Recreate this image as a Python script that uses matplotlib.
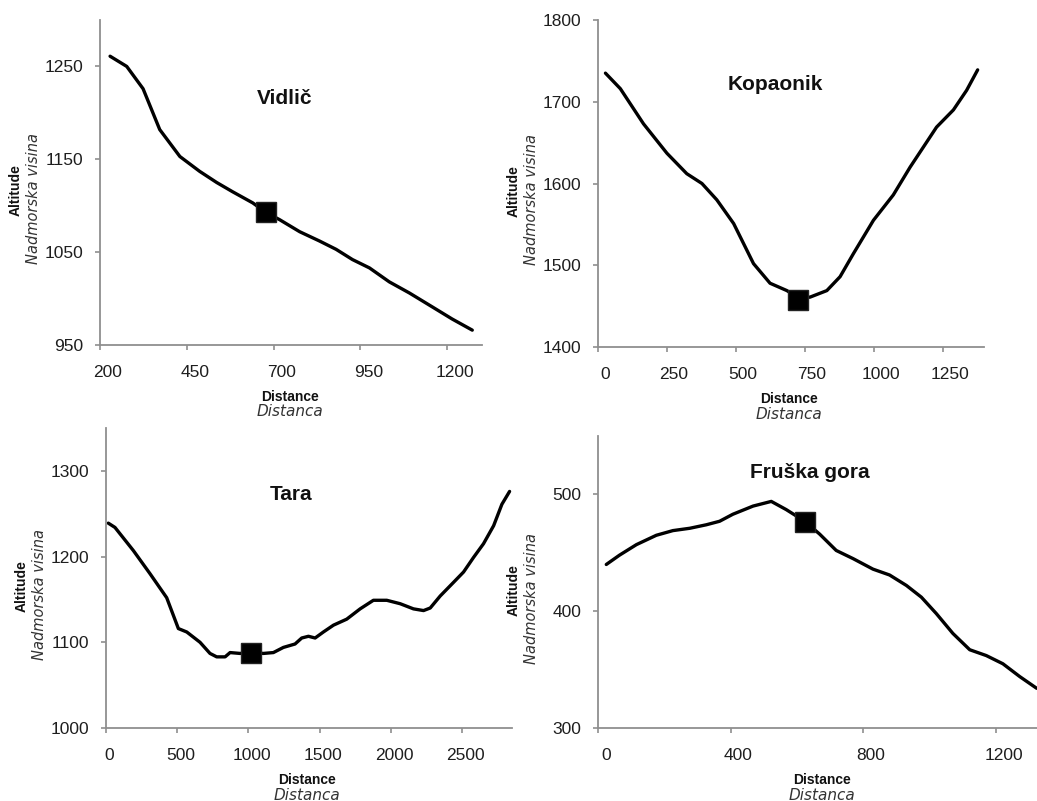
import numpy as np
import matplotlib
matplotlib.use("Agg")
import matplotlib.pyplot as plt
import matplotlib.transforms as mtransforms

W, H = 1037, 801

# Vidlic profile
vid_x = [229, 277, 324, 372, 430, 487, 536, 582, 640, 677, 717, 775, 832, 880,
         927, 976, 1033, 1091, 1157, 1214, 1272]
vid_y = [1261, 1250, 1226, 1182, 1153, 1137, 1125, 1115, 1103, 1093, 1085, 1072,
         1062, 1053, 1042, 1033, 1018, 1006, 991, 978, 966]
vid_mark = (677, 1093)

# Kopaonik profile
kop_x = [27, 81, 165, 250, 322, 377, 431, 492, 564, 624, 685, 727, 769, 830, 878,
         926, 999, 1071, 1132, 1228, 1289, 1337, 1377]
kop_y = [1735, 1716, 1673, 1637, 1612, 1600, 1580, 1551, 1502, 1478, 1469, 1460,
         1461, 1469, 1486, 1514, 1555, 1586, 1620, 1669, 1690, 1714, 1739]
kop_mark = (727, 1458)

# Tara profile
tara_x = [16, 63, 192, 309, 426, 508, 567, 660, 730, 777, 836, 871, 941, 1018,
          1105, 1175, 1245, 1327, 1374, 1421, 1468, 1526, 1597, 1690, 1784, 1877,
          1971, 2065, 2158, 2229, 2276, 2346, 2440, 2510, 2580, 2650, 2721, 2779, 2833]
tara_y = [1239, 1234, 1207, 1180, 1152, 1116, 1112, 1100, 1087, 1083, 1083, 1088,
          1087, 1088, 1087, 1088, 1094, 1098, 1105, 1107, 1105, 1112, 1120, 1127,
          1139, 1149, 1149, 1145, 1139, 1137, 1140, 1154, 1170, 1182, 1199, 1215,
          1236, 1261, 1276]
tara_mark = (1018, 1088)

# Fruska gora profile
fg_x = [25, 65, 116, 176, 226, 277, 327, 367, 407, 468, 523, 568, 624, 669, 719,
        770, 830, 880, 931, 976, 1021, 1071, 1122, 1172, 1222, 1273, 1324]
fg_y = [440, 448, 457, 465, 469, 471, 474, 477, 483, 490, 494, 487, 477, 466, 452,
        445, 436, 431, 422, 412, 398, 381, 367, 362, 355, 344, 334]
fg_mark = (624, 476)

panels = [
    # name, x, y, mark, rect(px l,t,r,b), xlim, ylim, xticks, yticks, title pos, xlabel x, label shift px
    ("Vidlič", vid_x, vid_y, vid_mark, (100, 20, 482, 345), (200, 1300), (950, 1300),
     [200, 450, 700, 950, 1200], [950, 1050, 1150, 1250], (285, 99), 290, 8),
    ("Kopaonik", kop_x, kop_y, kop_mark, (598, 20, 984, 347), (0, 1400), (1400, 1800),
     [0, 250, 500, 750, 1000, 1250], [1400, 1500, 1600, 1700, 1800], (775, 85), 789, 7),
    ("Tara", tara_x, tara_y, tara_mark, (106, 428, 512, 728), (0, 2850), (1000, 1350),
     [0, 500, 1000, 1500, 2000, 2500], [1000, 1100, 1200, 1300], (291, 495), 307, 3.5),
    ("Fruška gora", fg_x, fg_y, fg_mark, (598, 436, 1037, 728), (0, 1325), (300, 550),
     [0, 400, 800, 1200], [300, 400, 500], (810, 472), 822, 8),
]

fig = plt.figure(figsize=(W / 100, H / 100), dpi=100)
fig.patch.set_facecolor("white")
font = "Liberation Sans"

for name, xs, ys, mark, (l, t, r, b), xl, yl, xt, yt, (tx, ty), lx, shift in panels:
    ax = fig.add_axes([l / W, 1 - b / H, (r - l) / W, (b - t) / H])
    ax.plot(xs, ys, color="black", lw=2.4, solid_capstyle="round")
    ax.plot([mark[0]], [mark[1]], marker="s", ms=15, color="black", mec="#222222", mew=1)
    ax.set_xlim(*xl)
    ax.set_ylim(*yl)
    ax.set_xticks(xt)
    ax.set_yticks(yt)
    for s in ["top", "right"]:
        ax.spines[s].set_visible(False)
    for s in ["left", "bottom"]:
        ax.spines[s].set_color("#8f8f8f")
        ax.spines[s].set_linewidth(1.3)
    ax.tick_params(direction="out", length=3.6, width=1.2, color="#8f8f8f",
                   labelsize=12.5, labelcolor="#1e1e1e")
    ax.tick_params(axis="x", pad=11)
    ax.tick_params(axis="y", pad=8.4)
    off = mtransforms.ScaledTranslation(shift / 100, 0, fig.dpi_scale_trans)
    for lab in ax.get_xticklabels():
        lab.set_fontfamily(font)
        lab.set_transform(lab.get_transform() + off)
    for lab in ax.get_yticklabels():
        lab.set_fontfamily(font)

    fig.text(tx / W, 1 - ty / H, name, ha="center", va="center", fontsize=15,
             fontweight="bold", family=font, color="#111111")
    # axis labels
    cy = (t + b) / 2
    fig.text((l - 84) / W, 1 - (cy + 8) / H, "Altitude", rotation=90, ha="center",
             va="center", fontsize=10, fontweight="bold", family=font, color="#111111")
    fig.text((l - 66) / W, 1 - (cy + 16) / H, "Nadmorska visina", rotation=90,
             ha="center", va="center", fontsize=10.5, style="italic", family="DejaVu Sans",
             color="#333333")
    fig.text(lx / W, 1 - (b + 52) / H, "Distance", ha="center", va="center",
             fontsize=10, fontweight="bold", family=font, color="#111111")
    fig.text(lx / W, 1 - (b + 67) / H, "Distanca", ha="center", va="center",
             fontsize=11, style="italic", family="DejaVu Sans", color="#333333")

fig.savefig("out.png", dpi=100, facecolor="white")
